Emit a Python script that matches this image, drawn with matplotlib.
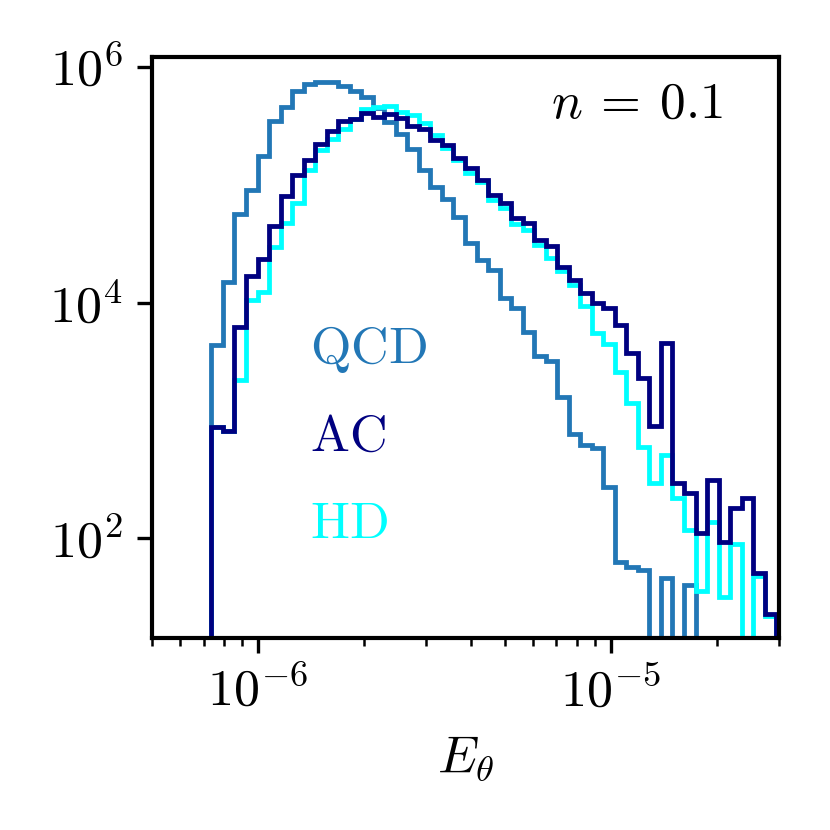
import numpy as np
import matplotlib
matplotlib.use("Agg")
import matplotlib.pyplot as plt
from matplotlib.ticker import NullLocator, FuncFormatter

plt.rcParams['mathtext.fontset'] = 'cm'
plt.rcParams['font.size'] = 12
plt.rcParams['axes.linewidth'] = 1.0

# histogram binning (log-spaced)
E_MIN = 7.37e-7
E_MAX = 2.94e-5
N_EDGES = 50

# counts per bin
qcd = [4375, 14900, 56600, 90500, 176000, 344000, 461000, 630000, 719000, 743000,
       743000, 691000, 627000, 557000, 450000, 339000, 270000, 202000, 134000, 96600,
       75900, 53700, 31900, 23000, 19000, 10900, 8970, 5580, 3530, 3220,
       1570, 768, 619, 581, 274, 63, 57, 54, 0, 46,
       0, 40, 0, 0, 0, 0, 0, 0, 0]

ac = [886, 815, 6160, 16900, 23400, 44800, 80500, 121000, 163000, 222000,
      287000, 344000, 363000, 405000, 379000, 400000, 368000, 316000, 296000, 240000,
      216000, 168000, 140000, 109000, 82100, 69800, 52100, 47200, 34100, 30300,
      20200, 15700, 12000, 10000, 8970, 6470, 3720, 2280, 898, 4520,
      296, 241, 110, 313, 94, 180, 221, 51, 23]

hd = [886, 815, 2210, 10500, 12400, 29900, 47200, 69800, 134000, 198000,
      244000, 296000, 359000, 441000, 461000, 470000, 418000, 392000, 337000, 265000,
      205000, 163000, 126000, 106000, 74400, 63600, 46600, 41400, 30900, 24000,
      18600, 14100, 9380, 5500, 4460, 2600, 1400, 592, 296, 509,
      219, 118, 36, 138, 32, 90, 0, 48, 22]

labels = ['QCD', 'AC', 'HD']
colors = {'QCD': '#2277b6', 'AC': 'navy', 'HD': 'cyan'}


def pow10(v, pos):
    return r'$10^{%d}$' % int(round(np.log10(v)))


def plot_histograms(ax):
    edges = np.logspace(np.log10(E_MIN), np.log10(E_MAX), N_EDGES)
    ax.stairs(qcd, edges, color=colors['QCD'], lw=1.15)
    ax.stairs(hd, edges, color=colors['HD'], lw=1.15)
    ax.stairs(ac, edges, color=colors['AC'], lw=1.15)

    ax.set_xscale('log')
    ax.set_yscale('log')
    ax.set_xlim(5e-7, 3e-5)
    ax.set_ylim(14.2, 1.22e6)
    ax.set_xticks([1e-6, 1e-5])
    ax.set_yticks([1e2, 1e4, 1e6])
    ax.yaxis.set_minor_locator(NullLocator())
    ax.xaxis.set_major_formatter(FuncFormatter(pow10))
    ax.yaxis.set_major_formatter(FuncFormatter(pow10))
    ax.tick_params(labelsize=12.5)
    ax.set_xlabel(r'$E_\theta$', fontsize=12.5)

    ax.text(0.773, 0.92, r'$n\:=\:0.1$', transform=ax.transAxes,
            ha='center', va='center', fontsize=12.3)
    ys = [0.496, 0.346, 0.197]
    for lab, y in zip(labels, ys):
        ax.text(0.252, y, r'$\mathrm{%s}$' % lab, transform=ax.transAxes,
                ha='left', va='center', color=colors[lab], fontsize=12.5)


fig = plt.figure(figsize=(830 / 300, 830 / 300), dpi=300)
ax = fig.add_axes([0.1831, 0.231, 0.7558, 0.7007])
plot_histograms(ax)
fig.savefig('out.png', dpi=300)
